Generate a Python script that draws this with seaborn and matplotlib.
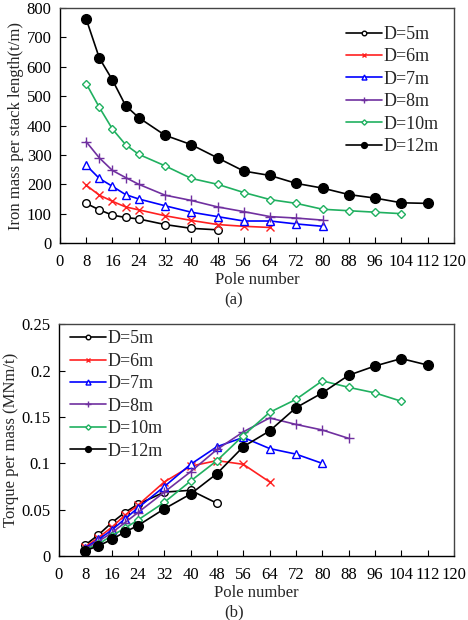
import pandas as pd
import matplotlib
matplotlib.use("Agg")
import matplotlib.pyplot as plt
import seaborn as sns

# --------------------------
# Datos
# --------------------------
poles = [8, 12, 16, 20, 24, 32, 40, 48, 56, 64, 72, 80, 88, 96, 104, 112]
labels = ["D=5m", "D=6m", "D=7m", "D=8m", "D=10m", "D=12m"]

mass_5 = [135, 113, 95, 87, 82, 63, 50, 45]
mass_6 = [197, 163, 142, 123, 113, 93, 77, 63, 57, 53]
mass_7 = [265, 220, 193, 165, 150, 127, 105, 90, 75, 75, 65, 57]
mass_8 = [345, 290, 247, 223, 200, 163, 145, 123, 107, 90, 85, 78]
mass_10 = [543, 462, 388, 335, 302, 263, 220, 200, 172, 148, 135, 115, 110, 105, 100]
mass_12 = [763, 630, 555, 468, 427, 367, 335, 290, 245, 230, 203, 187, 165, 153, 137, 135]

torque_5 = [0.012, 0.023, 0.036, 0.047, 0.056, 0.069, 0.071, 0.057]
torque_6 = [0.010, 0.020, 0.031, 0.044, 0.055, 0.080, 0.097, 0.103, 0.099, 0.080]
torque_7 = [0.009, 0.018, 0.028, 0.040, 0.052, 0.075, 0.099, 0.118, 0.128, 0.116, 0.110, 0.100]
torque_8 = [0.008, 0.016, 0.025, 0.036, 0.047, 0.069, 0.091, 0.115, 0.134, 0.149, 0.142, 0.136, 0.127]
torque_10 = [0.007, 0.013, 0.022, 0.030, 0.039, 0.058, 0.081, 0.103, 0.130, 0.155, 0.169, 0.189,
             0.182, 0.176, 0.167]
torque_12 = [0.006, 0.011, 0.018, 0.026, 0.033, 0.051, 0.067, 0.089, 0.118, 0.135, 0.160, 0.176,
             0.195, 0.205, 0.213, 0.206]

mass_series = [mass_5, mass_6, mass_7, mass_8, mass_10, mass_12]
torque_series = [torque_5, torque_6, torque_7, torque_8, torque_10, torque_12]

# Estilo de cada serie
styles = [
    dict(color="black", marker="o", mfc="white", ms=5.5),
    dict(color="#ff2020", marker="x", mfc="none", ms=6),
    dict(color="#0000ff", marker="^", mfc="white", ms=6),
    dict(color="#7030a0", marker="+", mfc="none", ms=7),
    dict(color="#20b060", marker="D", mfc="white", ms=4.5),
    dict(color="black", marker="o", mfc="black", ms=7),
]

sns.set_theme(style="white")
plt.rcParams["font.family"] = ["Liberation Serif", "DejaVu Serif"]


def dibujar(ax, series, ylabel, ylim, yticks, yfmt, legend_loc, legend_anchor):
    for lab, vals, st in zip(labels, series, styles):
        df = pd.DataFrame({"pole": poles[:len(vals)], "val": vals})
        sns.lineplot(data=df, x="pole", y="val", ax=ax, label=lab,
                     color=st["color"], marker=st["marker"],
                     markerfacecolor=st["mfc"], markeredgecolor=st["color"],
                     markeredgewidth=1.0, markersize=st["ms"], linewidth=1.2)
    ax.set_xlim(0, 120)
    ax.set_xticks(range(0, 121, 8))
    ax.set_ylim(*ylim)
    ax.set_yticks(yticks)
    ax.set_yticklabels([yfmt(v) for v in yticks])
    ax.set_xlabel("Pole number", fontsize=12, labelpad=1)
    ax.set_ylabel(ylabel, fontsize=12, labelpad=2)
    ax.tick_params(direction="in", length=4, width=0.8, labelsize=12,
                   colors="black", bottom=True, left=True)
    ax.tick_params(axis="x", pad=8)
    ax.tick_params(axis="y", pad=6)
    for side, sp in ax.spines.items():
        sp.set_visible(True)
        sp.set_linewidth(1.0)
        sp.set_color("black" if side in ("left", "bottom") else "#444444")
    ax.grid(False)
    leg = ax.legend(loc=legend_loc, bbox_to_anchor=legend_anchor, frameon=False,
                    fontsize=13, markerscale=0.6, handlelength=2.0,
                    handletextpad=0.1, labelspacing=0.3, borderaxespad=0.2)
    return leg


fig = plt.figure(figsize=(4.68, 6.2), dpi=100)
ax1 = fig.add_axes([0.128, 0.608, 0.842, 0.379])
ax2 = fig.add_axes([0.126, 0.103, 0.844, 0.374])

dibujar(ax1, mass_series, "Iron mass per stack length(t/m)", (0, 800),
        list(range(0, 801, 100)), lambda v: f"{v:d}", "upper right", (0.99, 0.97))
dibujar(ax2, torque_series, "Torque per mass (MNm/t)", (0, 0.25),
        [0, 0.05, 0.1, 0.15, 0.2, 0.25], lambda v: f"{v:g}", "upper left", (0.0, 1.02))

fig.text(0.5, 0.515, "(a)", ha="center", va="center", fontsize=12)
fig.text(0.5, 0.013, "(b)", ha="center", va="center", fontsize=12)

fig.savefig("out.png", dpi=100)
